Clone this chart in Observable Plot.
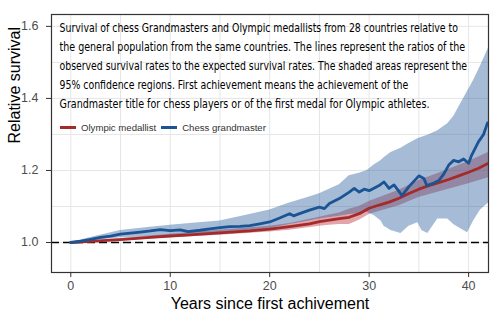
<!DOCTYPE html>
<html>
<head>
<meta charset="utf-8">
<script src="https://cdn.jsdelivr.net/npm/d3@7"></script>
<script src="https://cdn.jsdelivr.net/npm/@observablehq/plot@0.6"></script>
<style>
  html, body { margin: 0; padding: 0; background: #fff; }
  #wrap { position: relative; width: 490px; height: 324px; }
  #legend { position: absolute; left: 60px; top: 122px; display: flex; align-items: center;
            font-family: "Liberation Sans", Arial, sans-serif; font-size: 9.6px; color: #333; white-space: nowrap; }
  #legend .sw { display: inline-block; width: 16px; height: 2.6px; margin-right: 5px; }
  #legend .lab { margin-right: 5px; }
</style>
</head>
<body>
<div id="wrap"></div>
<script>
// ---------- data ----------
const chessYears = [0,1,2,3,4,5,6,7,8,9,10,11,11.8,13,14,15,16,17,18,19,20,21,22,22.4,23,24,25,25.5,26,27,28,28.5,29,29.5,30,31,31.5,32,32.5,33,33.3,34,35,35.5,35.8,36.5,37,37.5,38,38.5,39,39.5,40,40.3,41,41.5,41.9];
const chessRatio = [1.000,1.004,1.009,1.014,1.018,1.023,1.026,1.029,1.032,1.036,1.033,1.035,1.030,1.034,1.038,1.041,1.044,1.045,1.047,1.052,1.057,1.068,1.080,1.074,1.080,1.090,1.098,1.094,1.108,1.122,1.140,1.150,1.140,1.148,1.144,1.158,1.168,1.150,1.160,1.142,1.130,1.155,1.185,1.178,1.158,1.165,1.172,1.190,1.215,1.228,1.224,1.232,1.220,1.242,1.280,1.300,1.332];

const chessBandYears = [0,2,5,8,10,12,15,18,20,22,24,25,27,28,29,29.8,30.5,31.2,31.5,32.2,33.2,34,34.9,35.3,35.9,36.9,37.9,38.5,38.9,39.9,40.5,41.2,42];
const chessLower = [1.000,1.004,1.013,1.016,1.018,1.020,1.024,1.030,1.038,1.050,1.060,1.065,1.073,1.078,1.080,1.084,1.075,1.060,1.045,1.033,1.025,1.045,1.055,1.033,1.025,1.065,1.065,1.050,1.043,1.027,1.060,1.090,1.110];
const chessUpper = [1.000,1.014,1.033,1.042,1.048,1.053,1.060,1.078,1.090,1.110,1.126,1.135,1.160,1.185,1.192,1.200,1.215,1.228,1.235,1.250,1.262,1.275,1.288,1.292,1.298,1.310,1.330,1.350,1.370,1.420,1.450,1.490,1.540];

const olyYears = [0,2,5,8,10,12,15,18,20,22,24,25,26,27,28,29,30,31,32,33,34,35,36,37,38,39,40,41,42];
const olyRatio = [1.000,1.003,1.008,1.014,1.018,1.021,1.027,1.032,1.037,1.044,1.052,1.058,1.062,1.066,1.070,1.080,1.095,1.104,1.112,1.123,1.136,1.148,1.158,1.166,1.175,1.185,1.195,1.206,1.220];

const olyBandYears = [0,5,10,15,20,22,25,26,27,28,29,30,31,33,35,37,40,42];
const olyLower = [1.000,1.005,1.013,1.020,1.029,1.034,1.045,1.048,1.050,1.050,1.062,1.078,1.086,1.102,1.125,1.140,1.163,1.180];
const olyUpper = [1.000,1.011,1.023,1.034,1.045,1.053,1.070,1.076,1.082,1.092,1.100,1.114,1.124,1.145,1.172,1.192,1.225,1.250];

const xTicks = [0,10,20,30,40];
const xGrid = [0,5,10,15,20,25,30,35,40];
const yTicks = [1.0,1.2,1.4,1.6];
const yGrid = [1.0,1.1,1.2,1.3,1.4,1.5,1.6];
const refLine = [1.0];

const seriesNames = ["Olympic medallist","Chess grandmaster"];
const seriesColors = ["#a52a2a","#1b5494"];
const xLabel = "Years since first achivement";
const yLabel = "Relative survival";
const titleLines = [
  "Survival of chess Grandmasters and Olympic medallists from 28 countries relative to",
  "the general population from the same countries. The lines represent the ratios of the",
  "observed survival rates to the expected survival rates. The shaded areas represent the",
  "95% confidence regions. First achievement means the achievement of the",
  "Grandmaster title for chess players or of the first medal for Olympic athletes."
];

// ---------- tables ----------
const chess = chessYears.map((x,i) => ({x, y: chessRatio[i]}));
const chessBand = chessBandYears.map((x,i) => ({x, lo: chessLower[i], hi: chessUpper[i]}));
const oly = olyYears.map((x,i) => ({x, y: olyRatio[i]}));
const olyBand = olyBandYears.map((x,i) => ({x, lo: olyLower[i], hi: olyUpper[i]}));

// layout constants (target pixel widths of the title lines)
const titleWidths = [399, 406, 408, 349, 370];

const chart = Plot.plot({
  width: 490, height: 324,
  marginLeft: 51, marginRight: 2, marginTop: 14, marginBottom: 52,
  style: {fontFamily: "'Liberation Sans', Arial, sans-serif", fontSize: "12.5px", color: "#4d4d4d", background: "#fff"},
  x: {domain: [-1.94, 42.0]},
  y: {domain: [0.9167, 1.633]},
  marks: [
    Plot.gridX(xGrid, {stroke: "#e6e6e6", strokeOpacity: 1, strokeWidth: 1}),
    Plot.gridY(yGrid, {stroke: "#e6e6e6", strokeOpacity: 1, strokeWidth: 1}),
    Plot.areaY(olyBand, {x: "x", y1: "lo", y2: "hi", fill: "#bc3742", fillOpacity: 0.45, clip: true}),
    Plot.areaY(chessBand, {x: "x", y1: "lo", y2: "hi", fill: "#2b5c9c", fillOpacity: 0.42, clip: true}),
    Plot.ruleY(refLine, {stroke: "#000", strokeWidth: 1.3, strokeDasharray: "8,4"}),
    Plot.line(oly, {x: "x", y: "y", stroke: seriesColors[0], strokeWidth: 2.8, clip: true}),
    Plot.line(chess, {x: "x", y: "y", stroke: seriesColors[1], strokeWidth: 2.8, clip: true}),
    Plot.frame({stroke: "#333", strokeWidth: 1.2}),
    Plot.axisX({ticks: xTicks, tickSize: 5, tickPadding: 4, label: null, stroke: "#333"}),
    Plot.axisY({ticks: yTicks, tickSize: 5, tickPadding: 8, tickFormat: d3.format(".1f"), label: null, stroke: "#333"}),
    Plot.text([xLabel], {frameAnchor: "bottom", dy: 36, text: d => d, fontSize: 16, fill: "#000"}),
    Plot.text([yLabel], {frameAnchor: "left", dx: -37, rotate: -90, text: d => d, fontSize: 16, fill: "#000"}),
    ...titleLines.map((t, i) => Plot.text([t], {
      frameAnchor: "top-left", textAnchor: "start", lineAnchor: "top",
      dx: 8, dy: 8.6 + i * 19, text: d => d, fill: "#000",
      fontSize: 12.8, fontFamily: "'DejaVu Sans Condensed', 'DejaVu Sans', sans-serif",
      className: "title-line"
    }))
  ]
});

const wrap = document.getElementById("wrap");
wrap.appendChild(chart);

// squeeze the title lines horizontally (condensed typeface look)
d3.select(chart).selectAll(".title-line text").each(function(d, i) {
  const natural = this.getComputedTextLength();
  const s = titleWidths[i] / natural;
  const t = this.getAttribute("transform") || "";
  this.setAttribute("transform", (t + ` scale(${s.toFixed(4)},1)`).trim());
});

const legend = document.createElement("div");
legend.id = "legend";
seriesNames.forEach((name, i) => {
  const sw = document.createElement("span");
  sw.className = "sw";
  sw.style.background = seriesColors[i];
  const lab = document.createElement("span");
  lab.className = "lab";
  lab.textContent = name;
  legend.appendChild(sw);
  legend.appendChild(lab);
});
wrap.appendChild(legend);
</script>
</body>
</html>
